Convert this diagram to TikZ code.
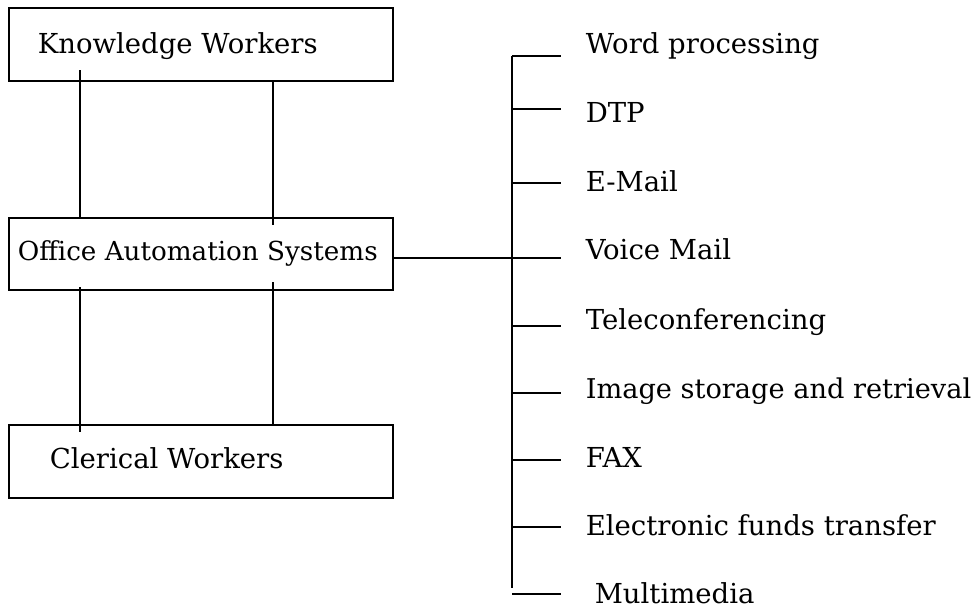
\documentclass[tikz,border=0pt]{standalone}
\usepackage{fontspec}
\setmainfont{DejaVu Serif}
\begin{document}
\begin{tikzpicture}[x=1pt,y=-1pt,line width=1.6pt,
  boxnode/.style={draw,line width=1.6pt,minimum width=384pt,minimum height=73pt,inner sep=0pt,anchor=north west},
  lbl/.style={anchor=base west,inner sep=0pt,font=\fontsize{27.5}{30}\selectfont}]
\useasboundingbox (0,0) rectangle (976,610);
% boxes
\node[boxnode] (kw) at (8,7) {};
\node[boxnode,minimum height=72pt] (oas) at (8,217) {};
\node[boxnode] (cw) at (8,424) {};
\node[lbl] (kwt) at (37,54) {Knowledge Workers};
\node[lbl,font=\fontsize{26.2}{30}\selectfont] (oast) at (17,260) {Office Automation Systems};
\node[lbl] (cwt) at (49,468) {Clerical Workers};
% vertical connectors
\coordinate (a1) at (80,70);  \coordinate (a2) at (80,217);
\coordinate (b1) at (273,80); \coordinate (b2) at (273,225);
\coordinate (c1) at (80,287); \coordinate (c2) at (80,432);
\coordinate (d1) at (273,282);\coordinate (d2) at (273,426);
\draw (a1) -- (a2);
\draw (b1) -- (b2);
\draw (c1) -- (c2);
\draw (d1) -- (d2);
% trunk
\coordinate (ttop) at (512,56);
\coordinate (tbot) at (512,588);
\draw (ttop) -- (tbot);
\coordinate (vmend) at (561,258);
\draw (oas.east |- vmend) -- (vmend);
% branches
\foreach \y/\b/\name/\txt/\tx/\fs in {
  56/53/wp/{Word processing}/585/27.5,
  109/122/dtp/{DTP}/585/27.5,
  183/191/em/{E-Mail}/585/27.5,
  258/259/vm/{Voice Mail}/585/27.5,
  326/329/tc/{Teleconferencing}/585/27.5,
  393/398/isr/{Image storage and retrieval}/585/27.2,
  460/467/fax/{FAX}/585/27.5,
  527/535/eft/{Electronic funds transfer}/585/27.5,
  594/603/mm/{Multimedia}/594/27.5}{
  \coordinate (\name s) at (512,\y);
  \coordinate (\name e) at (561,\y);
  \draw (\name s) -- (\name e);
  \node[lbl,font=\fontsize{\fs}{30}\selectfont] (\name) at (\tx,\b) {\txt};
}
\end{tikzpicture}
\end{document}
